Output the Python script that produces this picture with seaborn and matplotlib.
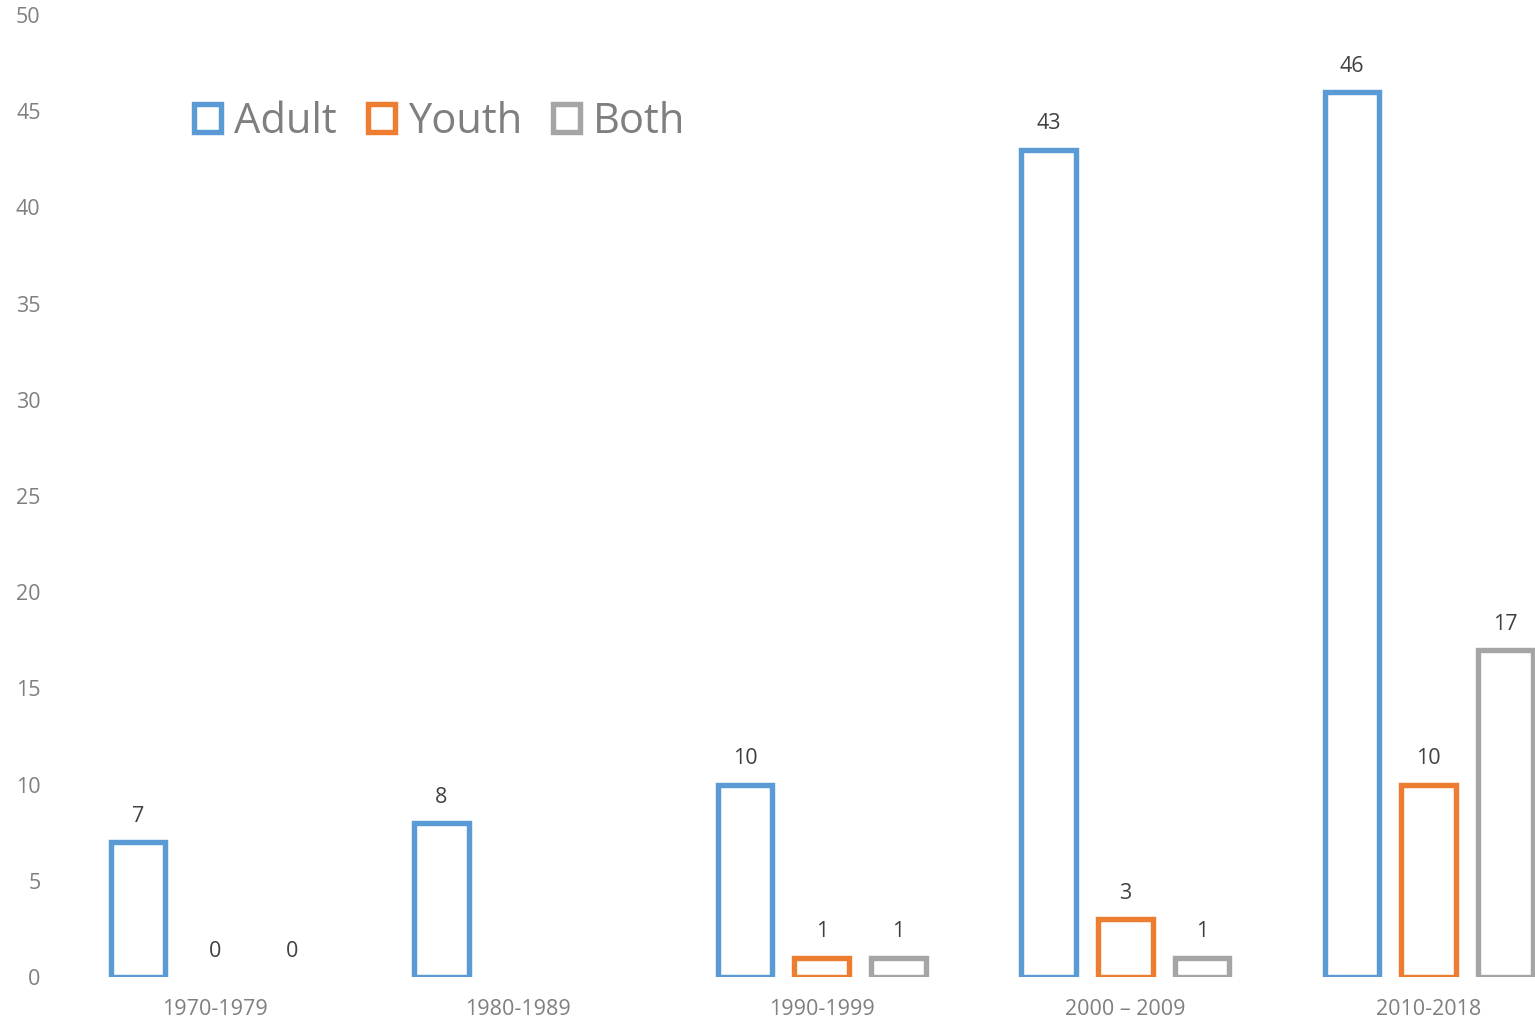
import numpy as np
import pandas as pd
import seaborn as sns
import matplotlib.pyplot as plt

# Chart data
decades = ["1970-1979", "1980-1989", "1990-1999", "2000 \u2013 2009", "2010-2018"]
groups = ["Adult", "Youth", "Both"]
adult = [7, 8, 10, 43, 46]
youth = [0, np.nan, 1, 3, 10]
both = [0, np.nan, 1, 1, 17]
colors = ["#5B9BD5", "#ED7D31", "#A5A5A5"]

# Long form, drop missing (1980s only has the adult figure)
df = pd.DataFrame({"decade": decades * 3,
                   "group": np.repeat(groups, len(decades)),
                   "count": adult + youth + both}).dropna()

sns.set_theme(style="white")
plt.rcParams["font.family"] = ["Open Sans", "DejaVu Sans"]

fig = plt.figure(figsize=(15.35, 10.21), dpi=100)
ax = fig.add_axes([60 / 1535, 44 / 1021, 1475 / 1535, 962 / 1021])

sns.barplot(ax=ax, data=df, x="decade", y="count", hue="group",
            order=decades, hue_order=groups, palette=colors,
            fill=False, linewidth=3.9, width=0.76, gap=0.29)

# Data labels; Excel hides zero-height bars but keeps their labels
for cont in ax.containers:
    ax.bar_label(cont, fmt="%d", padding=11, fontsize=15.5, color="#404040")
    for bar in cont:
        if bar.get_height() == 0:
            bar.set_visible(False)

ax.set(xlabel="", ylabel="", ylim=(0, 50), xlim=(-0.51, 4.35))
ax.set_yticks(range(0, 51, 5))
ax.tick_params(axis="both", length=0, labelsize=15.5, colors="#7f7f7f")
ax.tick_params(axis="x", pad=16)
ax.tick_params(axis="y", pad=14)
sns.despine(ax=ax, left=True, bottom=True)

sns.move_legend(ax, "center left", bbox_to_anchor=(0.077, 0.889), ncol=3,
                frameon=False, title=None, fontsize=30, borderpad=0,
                handlelength=0.65, handleheight=0.65, handletextpad=0.3,
                columnspacing=0.75, labelcolor="#7f7f7f")
for h in ax.get_legend().get_patches():
    h.set_linewidth(3.9)

plt.savefig("out.png", dpi=100)
plt.close(fig)
